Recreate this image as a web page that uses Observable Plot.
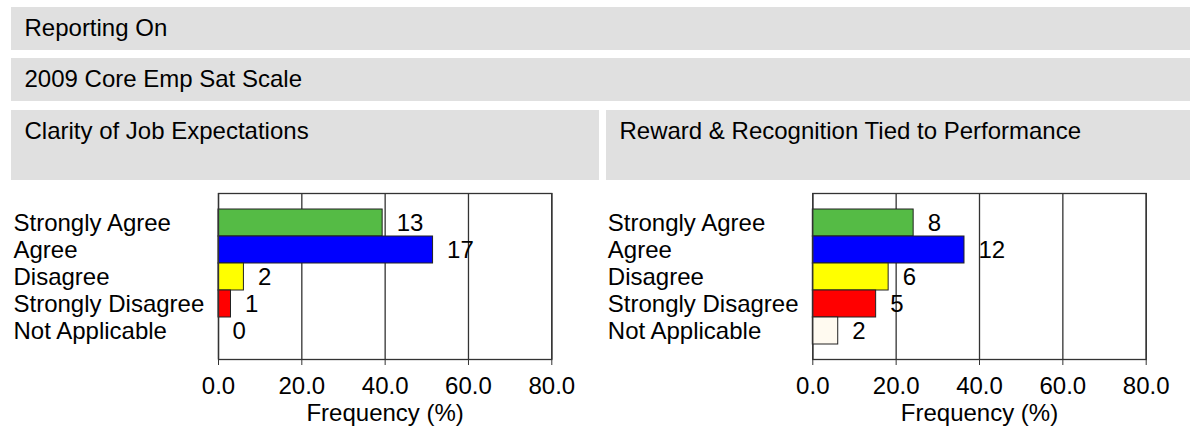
<!DOCTYPE html>
<html><head><meta charset="utf-8">
<script src="https://cdn.jsdelivr.net/npm/d3@7"></script>
<script src="https://cdn.jsdelivr.net/npm/@observablehq/plot@0.6"></script>
<style>
html,body{margin:0;padding:0;background:#fff;width:1190px;height:431px;overflow:hidden;font-family:"Liberation Sans",Arial,Helvetica,sans-serif;}
.band{position:absolute;background:#e0e0e0;color:#000;font-size:24px;line-height:28px;box-sizing:border-box;padding:6.5px 0 0 13.5px;white-space:nowrap;}
.chart{position:absolute;top:185px;}
</style></head><body>
<div class="band" id="h1" style="left:11px;top:7px;width:1179px;height:43px;"></div>
<div class="band" id="h2" style="left:11px;top:58px;width:1179px;height:43px;"></div>
<div class="band" id="h3" style="left:11px;top:110px;width:588px;height:70px;"></div>
<div class="band" id="h4" style="left:606px;top:110px;width:584px;height:70px;"></div>
<div class="chart" id="c1" style="left:0px;"></div>
<div class="chart" id="c2" style="left:595px;"></div>
<script>
const reportTitle = "Reporting On";
const scaleTitle = "2009 Core Emp Sat Scale";
const chartTitles = ["Clarity of Job Expectations", "Reward & Recognition Tied to Performance"];
const categories = ["Strongly Agree", "Agree", "Disagree", "Strongly Disagree", "Not Applicable"];
const clarityCounts = [13, 17, 2, 1, 0];
const clarityPct = [39.4, 51.5, 6.1, 3.0, 0.0];
const rewardCounts = [8, 12, 6, 5, 2];
const rewardPct = [24.2, 36.4, 18.2, 15.2, 6.1];
const xTicks = [0, 20, 40, 60, 80];
const xLabel = "Frequency (%)";
const colors = ["#55bb45", "#0000ff", "#ffff00", "#ff0000", "#fffaf0"];

document.getElementById("h1").textContent = reportTitle;
document.getElementById("h2").textContent = scaleTitle;
document.getElementById("h3").textContent = chartTitles[0];
document.getElementById("h4").textContent = chartTitles[1];

function chart(pct, counts, ml, mr) {
  const data = categories.map((c, i) => ({cat: c, pct: pct[i], n: counts[i]}));
  return Plot.plot({
    width: 595, height: 246,
    marginLeft: ml, marginRight: mr, marginTop: 8, marginBottom: 72,
    style: {fontFamily: '"Liberation Sans", Arial, Helvetica, sans-serif', fontSize: "24px", color: "#000", background: "transparent", overflow: "visible"},
    x: {domain: [0, 80], ticks: xTicks},
    y: {domain: categories, padding: 0, insetTop: 14, insetBottom: 14},
    color: {domain: categories, range: colors},
    marks: [
      Plot.gridX(xTicks, {stroke: "#333", strokeOpacity: 1, strokeWidth: 1.3}),
      Plot.barX(data, {x: "pct", y: "cat", fill: "cat", stroke: "#222", strokeWidth: 1}),
      Plot.text(data, {x: "pct", y: "cat", text: d => String(d.n), textAnchor: "start", dx: 14, fill: "#000"}),
      Plot.axisY({tickSize: 0, tickPadding: 0, textAnchor: "start", dx: -205, label: null}),
      Plot.axisX(xTicks, {tickSize: 6, tickPadding: 11, tickFormat: d3.format(".1f"), label: xLabel, labelAnchor: "center", labelArrow: "none", labelOffset: 61, stroke: "#333"}),
      Plot.frame({stroke: "#333", strokeWidth: 1.3})
    ]
  });
}

document.getElementById("c1").appendChild(chart(clarityPct, clarityCounts, 218, 43.7));
document.getElementById("c2").appendChild(chart(rewardPct, rewardCounts, 217.3, 44.3));
</script>
</body></html>
